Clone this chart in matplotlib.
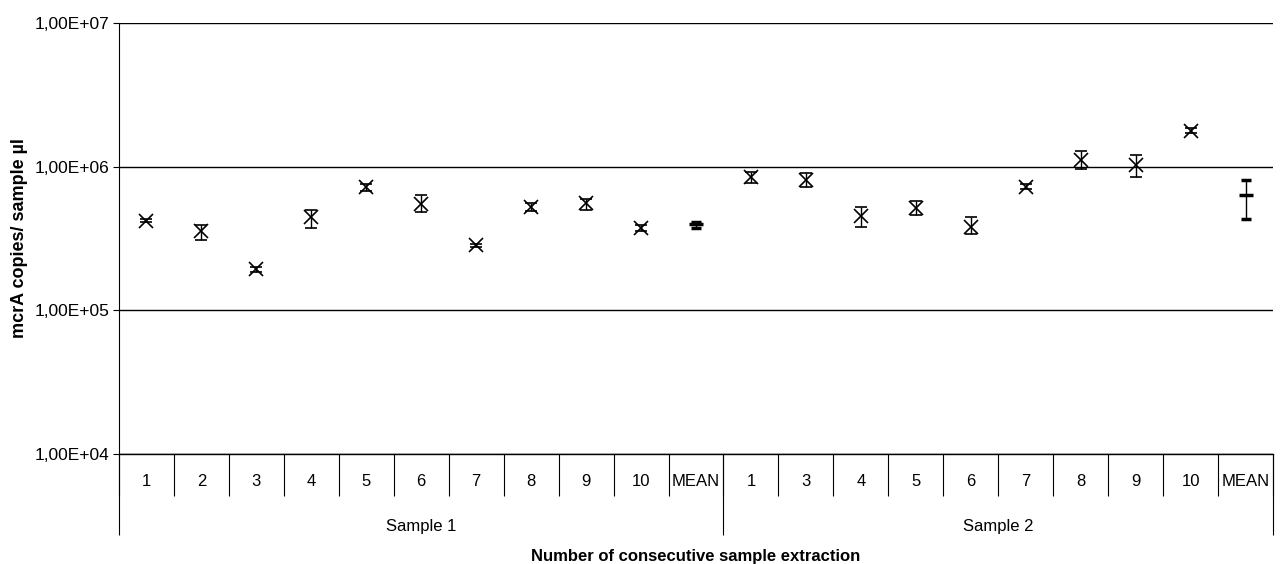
"""Consecutive extraction chart: mcrA copies per sample ul, two samples, log scale."""
import matplotlib
matplotlib.use("Agg")
import matplotlib.pyplot as plt
import numpy as np
from matplotlib.ticker import FixedLocator, FuncFormatter, NullFormatter, NullLocator

plt.rcParams["font.family"] = ["Liberation Sans", "DejaVu Sans"]

GROUPS = ["Sample 1", "Sample 2"]
S1_LABELS = ["1", "2", "3", "4", "5", "6", "7", "8", "9", "10", "MEAN"]
S2_LABELS = ["1", "3", "4", "5", "6", "7", "8", "9", "10", "MEAN"]

S1_VALUES = [4.2e5, 3.54e5, 1.93e5, 4.43e5, 7.26e5, 5.53e5, 2.83e5, 5.27e5, 5.62e5, 3.77e5, 4.0e5]
S1_LOW = [4.1e5, 3.11e5, 1.85e5, 3.77e5, 6.8e5, 4.87e5, 2.75e5, 4.95e5, 5.02e5, 3.54e5, 3.77e5]
S1_HIGH = [4.3e5, 3.95e5, 2.0e5, 5.02e5, 7.6e5, 6.3e5, 2.9e5, 5.62e5, 6.0e5, 3.95e5, 4.12e5]

S2_VALUES = [8.53e5, 8.13e5, 4.5e5, 5.19e5, 3.83e5, 7.26e5, 1.12e6, 1.02e6, 1.78e6, 6.4e5]
S2_LOW = [7.75e5, 7.26e5, 3.83e5, 4.64e5, 3.38e5, 6.95e5, 9.68e5, 8.53e5, 1.72e6, 4.35e5]
S2_HIGH = [9.2e5, 9.1e5, 5.27e5, 5.8e5, 4.43e5, 7.55e5, 1.29e6, 1.21e6, 1.85e6, 8.1e5]

OUT_PATH = "out.png"


def sci_comma(v, pos):
    s = f"{v:.2E}"  # e.g. 1.00E+07
    return s.replace(".", ",")


def main() -> None:
    labels = S1_LABELS + S2_LABELS
    values = np.array(S1_VALUES + S2_VALUES)
    low = np.array(S1_LOW + S2_LOW)
    high = np.array(S1_HIGH + S2_HIGH)
    n = len(labels)
    x = np.arange(n)
    is_mean = np.array([lab == "MEAN" for lab in labels])

    fig = plt.figure(figsize=(12.8, 5.64), dpi=100, facecolor="white")
    ax = fig.add_axes([119 / 1280, 1 - 454 / 564, 1154 / 1280, 431 / 564])

    ax.set_yscale("log")
    ax.set_ylim(1e4, 1e7)
    ax.set_xlim(-0.5, n - 0.5)

    pts = ~is_mean
    ax.errorbar(x[pts], values[pts],
                yerr=[values[pts] - low[pts], high[pts] - values[pts]],
                fmt="x", color="black", ms=9.5, mew=1.2, elinewidth=1.0,
                capsize=4.3, capthick=1.0, zorder=3)
    ax.errorbar(x[is_mean], values[is_mean],
                yerr=[values[is_mean] - low[is_mean], high[is_mean] - values[is_mean]],
                fmt="_", color="black", ms=9.5, mew=2.5, elinewidth=1.0,
                capsize=3.5, capthick=1.0, zorder=3)

    # y axis
    ax.yaxis.set_major_locator(FixedLocator([1e4, 1e5, 1e6, 1e7]))
    ax.yaxis.set_minor_locator(NullLocator())
    ax.yaxis.set_major_formatter(FuncFormatter(sci_comma))
    ax.tick_params(axis="y", which="major", direction="out", length=4,
                   width=0.8, color="black", labelsize=12.5, pad=3)
    ax.grid(axis="y", which="major", color="black", lw=1.0)
    ax.set_axisbelow(True)

    for side in ("top", "right"):
        ax.spines[side].set_visible(False)
    ax.spines["left"].set_color("black")
    ax.spines["bottom"].set_color("black")
    ax.spines["bottom"].set_linewidth(1.0)

    # category axis: separators as major ticks, labels on minor ticks
    ax.xaxis.set_major_locator(FixedLocator(np.arange(n + 1) - 0.5))
    ax.xaxis.set_major_formatter(NullFormatter())
    ax.xaxis.set_minor_locator(FixedLocator(x))
    ax.set_xticklabels(labels, minor=True)
    ax.tick_params(axis="x", which="major", direction="out", length=30,
                   width=0.8, color="black")
    ax.tick_params(axis="x", which="minor", length=0, labelsize=12, pad=14.5)

    # group level
    n1 = len(S1_LABELS)
    bounds = [-0.5, n1 - 0.5, n - 0.5]
    centers = [(bounds[0] + bounds[1]) / 2, (bounds[1] + bounds[2]) / 2]
    sec = ax.secondary_xaxis("bottom")
    sec.spines["bottom"].set_visible(False)
    sec.xaxis.set_major_locator(FixedLocator(bounds))
    sec.xaxis.set_major_formatter(NullFormatter())
    sec.xaxis.set_minor_locator(FixedLocator(centers))
    sec.set_xticks(centers, GROUPS, minor=True)
    sec.tick_params(axis="x", which="major", direction="out", length=58,
                    width=0.8, color="black")
    sec.tick_params(axis="x", which="minor", length=0, labelsize=12, pad=47)

    ax.set_xlabel("Number of consecutive sample extraction", fontsize=12,
                  fontweight="bold")
    ax.xaxis.set_label_coords(0.5, -103 / 431)
    ax.xaxis.label.set_va("center")

    ax.set_ylabel("mcrA copies/ sample \u00b5l", fontsize=13, fontweight="bold")
    ax.yaxis.set_label_coords(-99 / 1154, 0.5)
    ax.yaxis.label.set_va("center")

    fig.savefig(OUT_PATH, dpi=100, facecolor="white")


if __name__ == "__main__":
    main()
